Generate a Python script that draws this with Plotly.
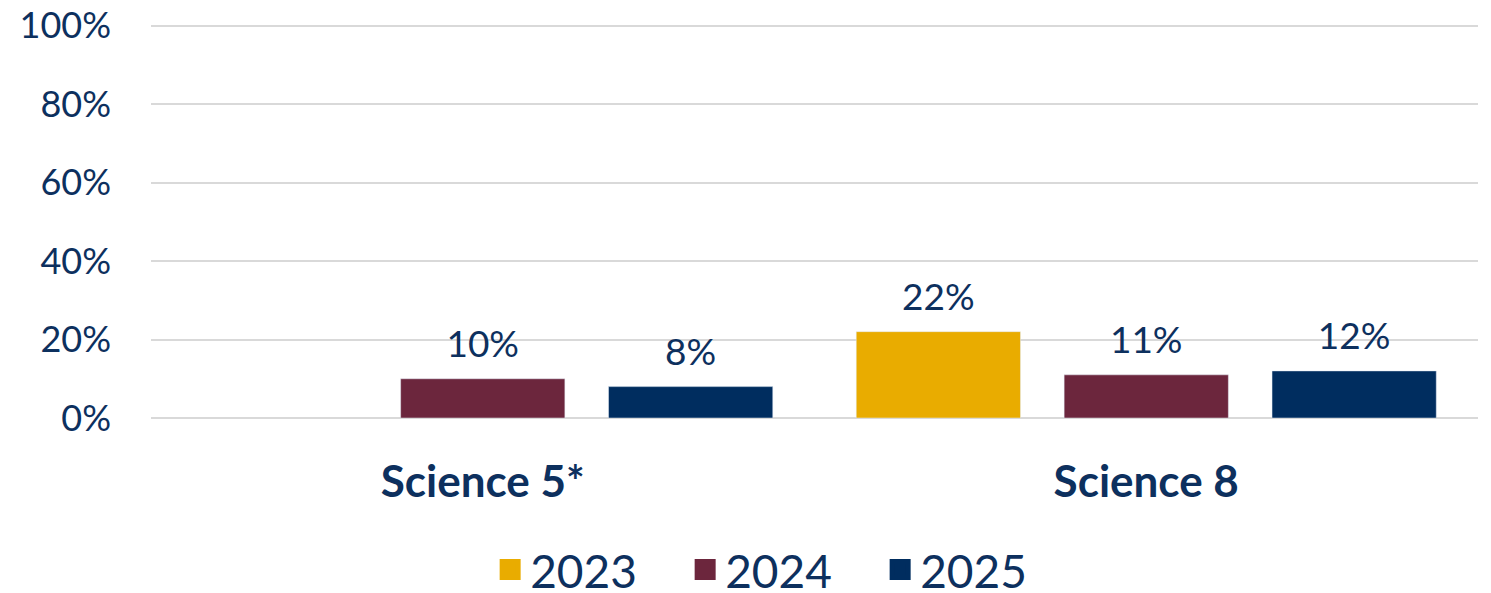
import plotly.graph_objects as go

categories = ["Science 5*", "Science 8"]
years = ["2023", "2024", "2025"]
values_2023 = [None, 22]
values_2024 = [10, 11]
values_2025 = [8, 12]
y_ticks = [0, 20, 40, 60, 80, 100]
y_tick_labels = ["0%", "20%", "40%", "60%", "80%", "100%"]

series = [values_2023, values_2024, values_2025]
colors = ["#E9AC00", "#6C263D", "#002D5F"]
text_color = "#0D305E"
font_family = "Lato, 'Open Sans', sans-serif"

fig = go.Figure()
for name, vals, col in zip(years, series, colors):
    fig.add_trace(go.Bar(
        x=categories, y=vals, name=name, marker_color=col,
        offsetgroup=name, showlegend=False, hoverinfo="x+y",
    ))
for name, vals, col in zip(years, series, colors):
    fig.add_trace(go.Scatter(
        x=categories, y=vals, mode="markers+text", offsetgroup=name,
        text=[("" if v is None else f"{v}%") for v in vals],
        textposition="top center",
        textfont=dict(size=37, color=text_color, family=font_family),
        marker=dict(size=18, opacity=0), showlegend=False, hoverinfo="skip",
        cliponaxis=False,
    ))
# legend entries (square swatches)
for name, col in zip(years, colors):
    fig.add_trace(go.Scatter(
        x=[categories[0]], y=[None], mode="markers", name=name,
        offsetgroup=name, showlegend=True,
        marker=dict(symbol="square", size=16, color=col,
                    line=dict(color=col, width=5)),
    ))

fig.update_layout(
    width=1491, height=593,
    margin=dict(l=151, r=13, t=24, b=175, autoexpand=False),
    paper_bgcolor="white", plot_bgcolor="white",
    barmode="group", bargap=0.06, bargroupgap=0.21,
    scattermode="group", scattergap=0.06,
    font=dict(family=font_family, color=text_color),
    xaxis=dict(
        type="category", showgrid=False, ticks="", showline=False,
        tickfont=dict(size=44, family="Lato", color=text_color, weight="bold"),
        ticklabelstandoff=34, automargin=False,
    ),
    yaxis=dict(
        range=[0, 100.4], tickvals=y_ticks, ticktext=y_tick_labels,
        showgrid=True, gridcolor="#D9D9D9", gridwidth=2,
        zeroline=True, zerolinecolor="#D9D9D9", zerolinewidth=2,
        tickfont=dict(size=36, color=text_color), ticks="",
        ticklabelstandoff=39, automargin=False,
    ),
    legend=dict(
        orientation="h", xref="paper", yref="paper",
        x=0.476, xanchor="center", y=-0.385, yanchor="middle",
        font=dict(size=46, color=text_color), itemwidth=30,
        entrywidth=150, entrywidthmode="pixels",
        traceorder="normal", bgcolor="rgba(0,0,0,0)",
    ),
)

fig.write_html("out.html", config={"displayModeBar": False},
               post_script="document.body.style.margin='0';")
